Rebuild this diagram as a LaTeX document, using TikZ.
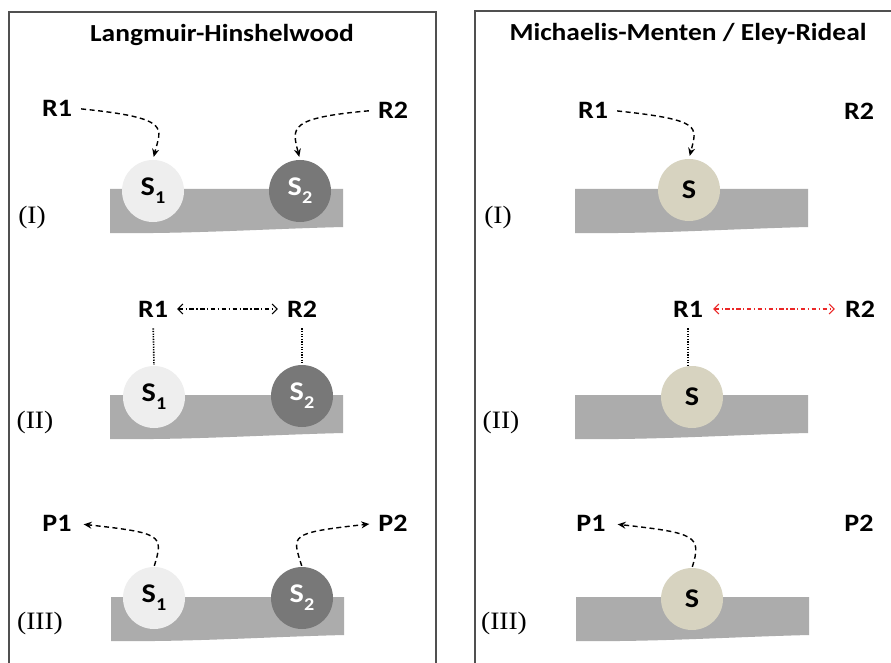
\documentclass[tikz,border=0pt]{standalone}
\usepackage{fontspec}
\setmainfont{Liberation Serif}
\newfontfamily\calfont[FakeStretch=1.12]{Carlito}
\newfontfamily\romfont[FakeStretch=1.1]{Liberation Serif}
\usetikzlibrary{arrows.meta}
\definecolor{sitelight}{RGB}{238,238,238}
\definecolor{sitedark}{RGB}{120,120,120}
\definecolor{sitebeige}{RGB}{215,211,192}
\definecolor{bandgray}{RGB}{172,172,172}
\definecolor{framegray}{RGB}{80,80,80}
\definecolor{exchred}{RGB}{235,40,40}
\newcommand{\mkband}[3]{\fill[bandfill] (#1,#3) -- (#2,#3) -- (#2,#3+38) .. controls (#2-80,#3+40) and (#1+80,#3+45) .. (#1,#3+44) -- cycle;}
\newcommand{\subtxt}[1]{\raisebox{-0.3em}{\fontsize{18}{19}\selectfont #1}}
\tikzset{
  bandfill/.style={fill=bandgray},
  frameline/.style={draw=framegray, line width=1.1pt},
  lbl/.style={font=\calfont\bfseries\fontsize{25}{27}\selectfont, inner sep=0pt},
  ttl/.style={font=\calfont\bfseries\fontsize{24.5}{27}\selectfont, inner sep=0pt},
  numlbl/.style={font=\romfont\fontsize{25}{28}\selectfont, inner sep=0pt},
  site/.style={circle, minimum size=62pt, inner sep=0pt, font=\calfont\bfseries\fontsize{27}{29}\selectfont},
  siteA/.style={site, fill=sitelight},
  siteB/.style={site, fill=sitedark, text=white},
  siteC/.style={site, fill=sitebeige},
  move/.style={dash pattern=on 5pt off 3.5pt, line width=1.4pt, -{Stealth[length=8pt,width=7pt]}},
  exch/.style={dash pattern=on 4.5pt off 2.5pt on 1.3pt off 2.5pt, line width=1.1pt, {Straight Barb[length=5pt,width=10pt]}-{Straight Barb[length=5pt,width=10pt]}},
  bond/.style={dash pattern=on 1.3pt off 1.3pt, line width=1.6pt}
}
\begin{document}
\begin{tikzpicture}[x=1pt,y=-1pt]
\useasboundingbox (0,0) rectangle (891,663);
\fill[white] (0,0) rectangle (891,663);
% frames
\draw[frameline] (9,663) -- (9,12) -- (436,12) -- (436,663);
\draw[frameline] (475,663) -- (475,11) -- (891,11);
% titles
\node[ttl] (t1) at (222,35) {Langmuir-Hinshelwood};
\node[ttl] (t2) at (688,34) {Michaelis-Menten / Eley-Rideal};
% bands
\mkband{110}{343}{189}
\mkband{110}{343}{395}
\mkband{111}{344}{597}
\mkband{575}{808}{189}
\mkband{575}{808}{395}
\mkband{576}{809}{597}
% roman numerals
\node[numlbl] (n1) at (32,217) {(I)};
\node[numlbl] (n2) at (35,422) {(II)};
\node[numlbl] (n3) at (40,623) {(III)};
\node[numlbl] (n4) at (498,217) {(I)};
\node[numlbl] (n5) at (501,422) {(II)};
\node[numlbl] (n6) at (504,623) {(III)};
% ---- left panel I
\node[siteA] (a1) at (153,191) {S\subtxt{1}};
\node[siteB] (a2) at (300,191) {S\subtxt{2}};
\node[lbl] (ar1) at (57,108) {R1};
\node[lbl] (ar2) at (393,110) {R2};
\draw[move, shorten <=9pt, shorten >=3pt] (ar1.east) .. controls +(100,10) and +(8,-32) .. (a1.north);
\draw[move, shorten <=9pt, shorten >=3pt] (ar2.west) .. controls +(-90,8) and +(-8,-32) .. (a2.north);
% ---- left panel II
\node[siteA] (b1) at (154,397) {S\subtxt{1}};
\node[siteB] (b2) at (302,396) {S\subtxt{2}};
\node[lbl] (br1) at (153,309) {R1};
\node[lbl] (br2) at (302,309) {R2};
\draw[exch, shorten <=9pt, shorten >=9pt] (br1.east) -- (br2.west);
\draw[bond, shorten <=11pt, shorten >=1pt] (br1.south) -- (b1.north);
\draw[bond, shorten <=11pt, shorten >=1pt] (br2.south) -- (b2.north);
% ---- left panel III
\node[siteA] (c1) at (154,598) {S\subtxt{1}};
\node[siteB] (c2) at (302,598) {S\subtxt{2}};
\node[lbl] (cp1) at (57,523) {P1};
\node[lbl] (cp2) at (393,523) {P2};
\draw[move, shorten <=1pt, shorten >=12pt] (c1.north) .. controls +(10,-32) and +(90,10) .. (cp1.east);
\draw[move, shorten <=1pt, shorten >=9pt] (c2.north) .. controls +(-10,-32) and +(-90,10) .. (cp2.west);
% ---- right panel I
\node[siteC] (d1) at (689,190) {S};
\node[lbl] (dr1) at (593,110) {R1};
\node[lbl] (dr2) at (859,111) {R2};
\draw[move, shorten <=9pt, shorten >=3pt] (dr1.east) .. controls +(95,10) and +(8,-32) .. (d1.north);
% ---- right panel II
\node[siteC] (e1) at (692,397) {S};
\node[lbl] (er1) at (688,309) {R1};
\node[lbl] (er2) at (860,309) {R2};
\draw[exch, draw=exchred, shorten <=10pt, shorten >=10pt] (er1.east) -- (er2.west);
\draw[bond, shorten <=11pt] (er1.south) -- (er1.south |- e1.north);
% ---- right panel III
\node[siteC] (f1) at (692,599) {S};
\node[lbl] (fp1) at (591,523) {P1};
\node[lbl] (fp2) at (859,523) {P2};
\draw[move, shorten <=1pt, shorten >=12pt] (f1.north) .. controls +(10,-32) and +(90,10) .. (fp1.east);
\end{tikzpicture}
\end{document}
